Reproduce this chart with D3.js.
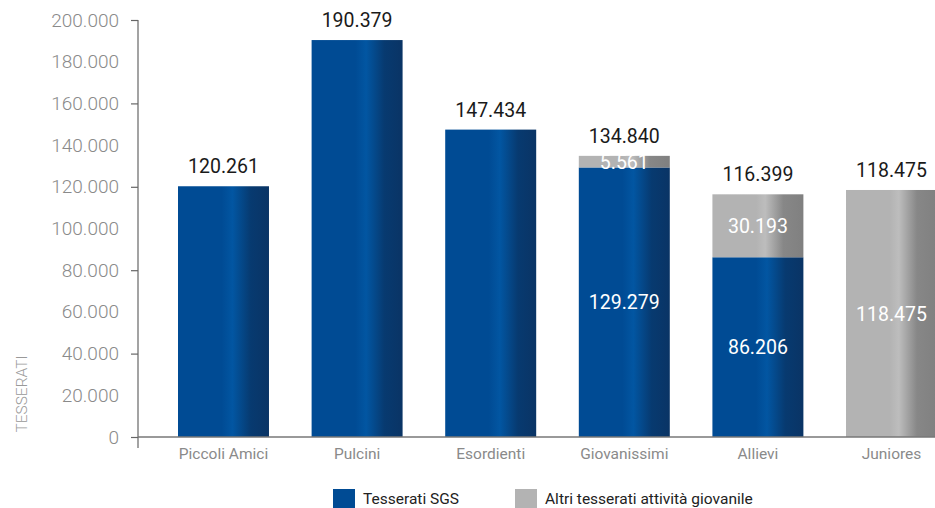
<!DOCTYPE html>
<html>
<head>
<meta charset="utf-8">
<script src="https://cdn.jsdelivr.net/npm/d3@7"></script>
<style>
  html, body { margin: 0; padding: 0; background: #fff; }
  svg { display: block; font-family: Roboto, "Open Sans", sans-serif; }
</style>
</head>
<body>
<svg id="chart" width="935" height="508"></svg>
<script>
const categories = ["Piccoli Amici", "Pulcini", "Esordienti", "Giovanissimi", "Allievi", "Juniores"];
const sgsValues = [120261, 190379, 147434, 129279, 86206, 0];
const altriValues = [0, 0, 0, 5561, 30193, 118475];
const totals = [120261, 190379, 147434, 134840, 116399, 118475];
const yTicks = [0, 20000, 40000, 60000, 80000, 100000, 120000, 140000, 160000, 180000, 200000];
const seriesNames = ["Tesserati SGS", "Altri tesserati attività giovanile"];
const yTitle = "TESSERATI";

const locale = d3.formatLocale({ decimal: ",", thousands: ".", grouping: [3], currency: ["€", ""] });
const fmt = locale.format(",d");

const svg = d3.select("#chart");
const W = 935, H = 508;
const axisX = 138, baseY = 437, topY = 20;

const y = d3.scaleLinear().domain([0, 200000]).range([baseY, topY]);
const x = d3.scaleBand().domain(categories).range([axisX, 977]).paddingInner(0.319).paddingOuter(0.2994);

// gradients
const defs = svg.append("defs");
function grad(id, stops) {
  const g = defs.append("linearGradient").attr("id", id).attr("x1", "0%").attr("x2", "100%").attr("y1", "0%").attr("y2", "0%");
  stops.forEach(s => g.append("stop").attr("offset", s[0]).attr("stop-color", s[1]));
}
grad("gBlue", [["0%", "#004b94"], ["48%", "#004b94"], ["60%", "#0256a2"], ["80%", "#073a70"], ["100%", "#0a3465"]]);
grad("gGray", [["0%", "#b3b3b3"], ["48%", "#b3b3b3"], ["58%", "#bdbdbd"], ["78%", "#878787"], ["100%", "#808080"]]);

const stackData = categories.map((c, i) => ({ cat: c, sgs: sgsValues[i], altri: altriValues[i], total: totals[i] }));

// bars
const g = svg.append("g");
stackData.forEach(d => {
  if (d.sgs > 0) {
    g.append("rect").attr("x", x(d.cat)).attr("width", x.bandwidth())
      .attr("y", y(d.sgs)).attr("height", y(0) - y(d.sgs)).attr("fill", "url(#gBlue)");
  }
  if (d.altri > 0) {
    g.append("rect").attr("x", x(d.cat)).attr("width", x.bandwidth())
      .attr("y", y(d.sgs + d.altri)).attr("height", y(d.sgs) - y(d.sgs + d.altri)).attr("fill", "url(#gGray)");
  }
});

// labels
stackData.forEach(d => {
  const cx = x(d.cat) + x.bandwidth() / 2;
  if (d.altri > 0) {
    if (d.sgs > 0) {
      g.append("text").attr("x", cx).attr("y", (y(0) + y(d.sgs)) / 2).attr("dy", "0.36em")
        .attr("text-anchor", "middle").attr("fill", "#fff").attr("font-size", 19.5).attr("font-weight", 400)
        .text(fmt(d.sgs));
    }
    g.append("text").attr("x", cx).attr("y", (y(d.sgs) + y(d.sgs + d.altri)) / 2).attr("dy", "0.36em")
      .attr("text-anchor", "middle").attr("fill", "#fff").attr("font-size", 19.5).attr("font-weight", 400)
      .text(fmt(d.altri));
  }
  g.append("text").attr("x", cx).attr("y", y(d.total) - 13)
    .attr("text-anchor", "middle").attr("fill", "#1a1a1a").attr("font-size", 19.5).attr("font-weight", 400)
    .text(fmt(d.total));
});

// y axis
const yAxis = d3.axisLeft(y).tickValues(yTicks).tickSize(0).tickPadding(19).tickFormat(fmt);
const ya = svg.append("g").attr("transform", `translate(${axisX},0)`).call(yAxis);
ya.select(".domain").remove();
ya.selectAll(".tick text").attr("fill", "#8a8a8a").attr("font-size", 19).attr("font-weight", 300)
  .attr("font-family", "Roboto, sans-serif");
ya.selectAll(".tick").filter(d => d % 40000 === 0).append("line")
  .attr("x1", -7).attr("x2", 0).attr("stroke", "#666").attr("stroke-width", 1.2);
svg.append("line").attr("x1", axisX).attr("x2", axisX).attr("y1", y(200000)).attr("y2", baseY + 11)
  .attr("stroke", "#666").attr("stroke-width", 1.2);

// x axis
const xAxis = d3.axisBottom(x).tickSize(0).tickPadding(11);
const xa = svg.append("g").attr("transform", `translate(0,${baseY})`).call(xAxis);
xa.select(".domain").remove();
xa.selectAll(".tick text").attr("fill", "#8a8a8a").attr("font-size", 15.5).attr("font-weight", 400)
  .attr("font-family", "Roboto, sans-serif");
svg.append("line").attr("x1", axisX).attr("x2", W).attr("y1", baseY).attr("y2", baseY)
  .attr("stroke", "#777").attr("stroke-width", 1.5);

// y title
svg.append("text").attr("transform", `translate(27,394) rotate(-90)`).attr("text-anchor", "middle")
  .attr("fill", "#999").attr("font-size", 15.5).attr("font-weight", 300).text(yTitle);

// legend
const legendX = [333, 515];
const legendColors = ["#004b94", "#b3b3b3"];
seriesNames.forEach((n, i) => {
  svg.append("rect").attr("x", legendX[i]).attr("y", 489).attr("width", 22).attr("height", 20)
    .attr("fill", legendColors[i]);
  svg.append("text").attr("x", legendX[i] + 30).attr("y", 504).attr("fill", "#222")
    .attr("font-size", 15.5).text(n);
});
</script>
</body>
</html>
